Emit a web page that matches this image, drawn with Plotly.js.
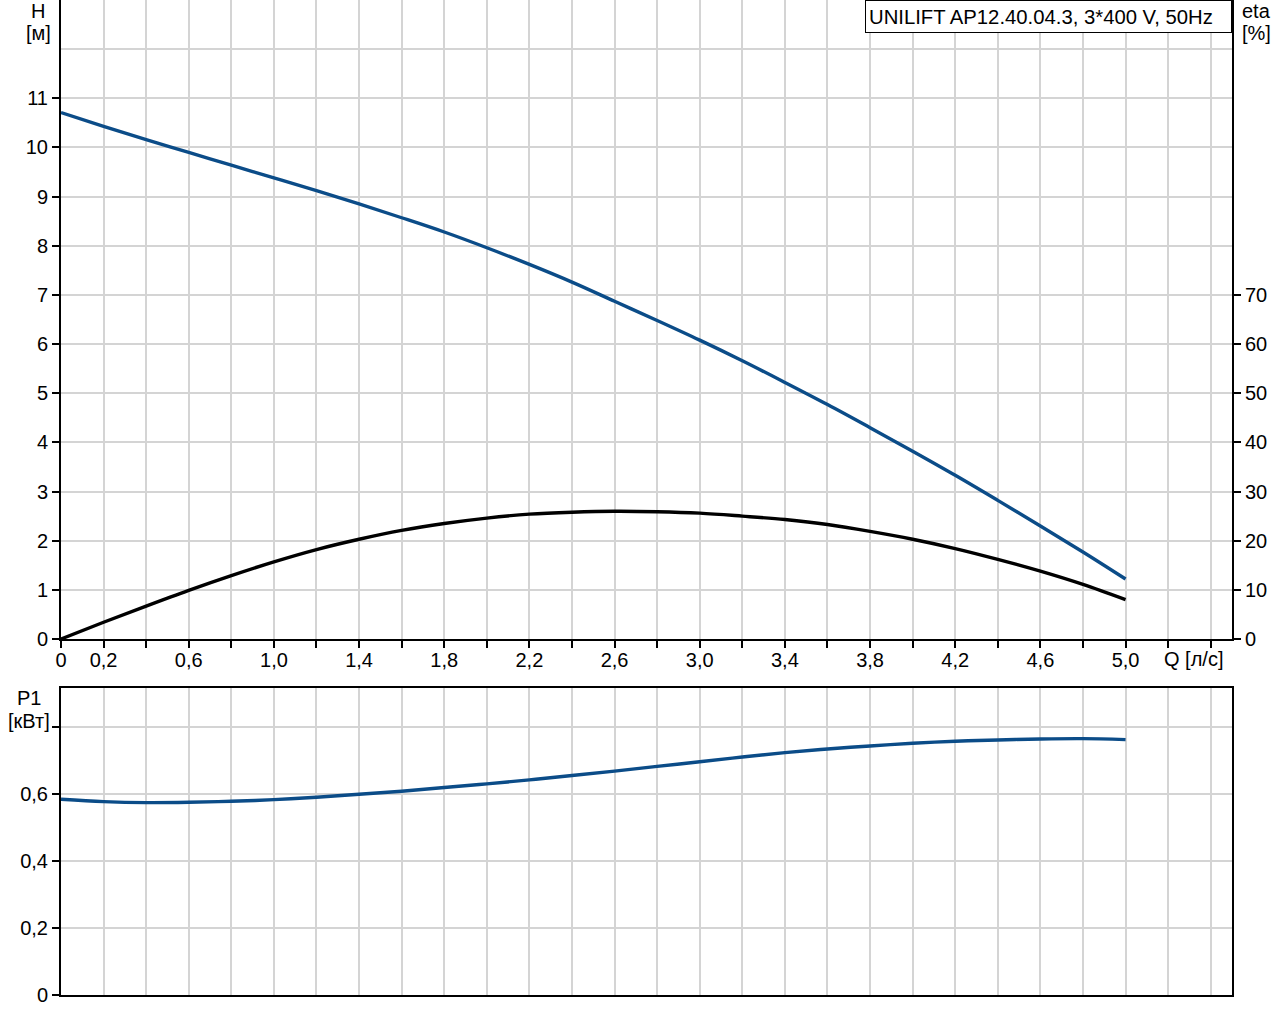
<!DOCTYPE html>
<html>
<head>
<meta charset="utf-8">
<script src="https://cdn.plot.ly/plotly-3.0.1.min.js"></script>
<style>html,body{margin:0;padding:0;background:#fff;}#chart{width:1280px;height:1024px;}</style>
</head>
<body>
<div id="chart"></div>
<script>
// ---- data ----
const flowQ = [0,0.2,0.4,0.6,0.8,1.0,1.2,1.4,1.6,1.8,2.0,2.2,2.4,2.6,2.8,3.0,3.2,3.4,3.6,3.8,4.0,4.2,4.4,4.6,4.8,5.0];
const headH = [10.71,10.43,10.16,9.90,9.64,9.38,9.12,8.85,8.57,8.28,7.96,7.62,7.26,6.87,6.48,6.08,5.66,5.22,4.77,4.30,3.82,3.33,2.82,2.30,1.77,1.22];
const effEta = [0,3.4,6.7,9.9,12.9,15.7,18.2,20.3,22.1,23.5,24.6,25.4,25.8,26.0,25.9,25.6,25.0,24.3,23.3,21.9,20.3,18.4,16.2,13.8,11.1,8.0];
const powerP1 = [0.584,0.577,0.574,0.575,0.578,0.583,0.590,0.599,0.608,0.619,0.630,0.642,0.655,0.668,0.682,0.696,0.710,0.723,0.734,0.743,0.751,0.757,0.761,0.764,0.765,0.762];

const xTickVals = [0,0.2,0.4,0.6,0.8,1.0,1.2,1.4,1.6,1.8,2.0,2.2,2.4,2.6,2.8,3.0,3.2,3.4,3.6,3.8,4.0,4.2,4.4,4.6,4.8,5.0,5.2,5.4];
const xTickText = ['0','0,2','','0,6','','1,0','','1,4','','1,8','','2,2','','2,6','','3,0','','3,4','','3,8','','4,2','','4,6','','5,0','',''];
const hTickVals = [0,1,2,3,4,5,6,7,8,9,10,11];
const hTickText = ['0','1','2','3','4','5','6','7','8','9','10','11'];
const etaTickVals = [0,10,20,30,40,50,60,70];
const etaTickText = ['0','10','20','30','40','50','60','70'];
const pTickVals = [0,0.2,0.4,0.6,0.8];
const pTickText = ['0','0,2','0,4','0,6',''];

const titleText = 'UNILIFT AP12.40.04.3, 3*400 V, 50Hz';
const hName = 'H', hUnit = '[м]';
const etaName = 'eta', etaUnit = '[%]';
const pName = 'P1', pUnit = '[кВт]';
const qLabel = 'Q [л/с]';

// ---- styling ----
const W = 1280, H = 1024;
const mL = 61, mR = 48, mT = 0, mB = 29;
const plotW = W - mL - mR, plotH = H - mT - mB;
const px2x = p => (p - mL) / plotW;
const px2y = p => (H - mB - p) / plotH;

const gridC = '#d4d4d4';
const gridW = 2;
const blue = '#0b4c88';
const fam = '"Liberation Sans", Arial, sans-serif';
const fnt = {family: fam, size: 20, color: '#000'};

const traces = [
  {x: flowQ, y: headH, xaxis: 'x', yaxis: 'y', mode: 'lines', line: {color: blue, width: 3.4, shape: 'spline', smoothing: 1}, hoverinfo: 'skip'},
  {x: flowQ, y: effEta, xaxis: 'x', yaxis: 'y2', mode: 'lines', line: {color: '#000', width: 3.4, shape: 'spline', smoothing: 1}, hoverinfo: 'skip'},
  {x: flowQ, y: powerP1, xaxis: 'x2', yaxis: 'y3', mode: 'lines', line: {color: blue, width: 3.4, shape: 'spline', smoothing: 1}, hoverinfo: 'skip'}
];

const xCommon = {
  range: [0, 5.5], tickmode: 'array', tickvals: xTickVals,
  showgrid: true, gridcolor: gridC, gridwidth: gridW, zeroline: false,
  showline: true, linecolor: '#000', linewidth: 2
};

const ann = (text, px, py, size) => ({
  text: text, xref: 'paper', yref: 'paper', x: px2x(px), y: px2y(py),
  xanchor: 'center', yanchor: 'middle', showarrow: false,
  font: {family: fam, size: size || 20, color: '#000'}
});

const layout = {
  width: W, height: H,
  margin: {l: mL, r: mR, t: mT, b: mB, pad: 0},
  paper_bgcolor: '#fff', plot_bgcolor: '#fff',
  font: fnt, showlegend: false,
  xaxis: Object.assign({}, xCommon, {
    anchor: 'y', domain: [0, 1], ticktext: xTickText,
    ticks: 'outside', ticklen: 7, tickwidth: 2, tickcolor: '#000',
    ticklabelstandoff: -5
  }),
  yaxis: {
    anchor: 'x', domain: [px2y(639), 1], range: [0, 13],
    tickmode: 'array', tickvals: hTickVals, ticktext: hTickText,
    ticks: 'outside', ticklen: 7, tickwidth: 2, tickcolor: '#000',
    showgrid: true, gridcolor: gridC, gridwidth: gridW, zeroline: false,
    minor: {tickmode: 'linear', tick0: 0, dtick: 1, showgrid: true, gridcolor: gridC, gridwidth: gridW, ticks: ''},
    showline: true, linecolor: '#000', linewidth: 2
  },
  yaxis2: {
    anchor: 'x', overlaying: 'y', side: 'right', range: [0, 130],
    tickmode: 'array', tickvals: etaTickVals, ticktext: etaTickText,
    ticks: 'outside', ticklen: 7, tickwidth: 2, tickcolor: '#000',
    showgrid: false, zeroline: false,
    showline: true, linecolor: '#000', linewidth: 2
  },
  xaxis2: Object.assign({}, xCommon, {
    anchor: 'y3', domain: [0, 1], showticklabels: false, ticks: '', mirror: true
  }),
  yaxis3: {
    anchor: 'x2', domain: [0, px2y(688)], range: [0, 0.916],
    tickmode: 'array', tickvals: pTickVals, ticktext: pTickText,
    ticks: 'outside', ticklen: 7, tickwidth: 2, tickcolor: '#000',
    showgrid: true, gridcolor: gridC, gridwidth: gridW, zeroline: false,
    showline: true, linecolor: '#000', linewidth: 2, mirror: true
  },
  annotations: [
    {text: titleText, xref: 'paper', yref: 'paper', x: 1, y: 1, xanchor: 'right', yanchor: 'top',
     showarrow: false, bgcolor: '#fff', bordercolor: '#000', borderwidth: 1, borderpad: 3,
     width: 359, height: 25, align: 'left', valign: 'middle',
     font: {family: fam, size: 20.3, color: '#000'}},
    ann(hName, 38, 11), ann(hUnit, 38, 33),
    ann(etaName, 1256, 11), ann(etaUnit, 1256, 33),
    ann(pName, 29, 698), ann(pUnit, 29, 721),
    ann(qLabel, 1193, 659)
  ]
};

Plotly.newPlot('chart', traces, layout, {staticPlot: true, displayModeBar: false});
</script>
</body>
</html>
